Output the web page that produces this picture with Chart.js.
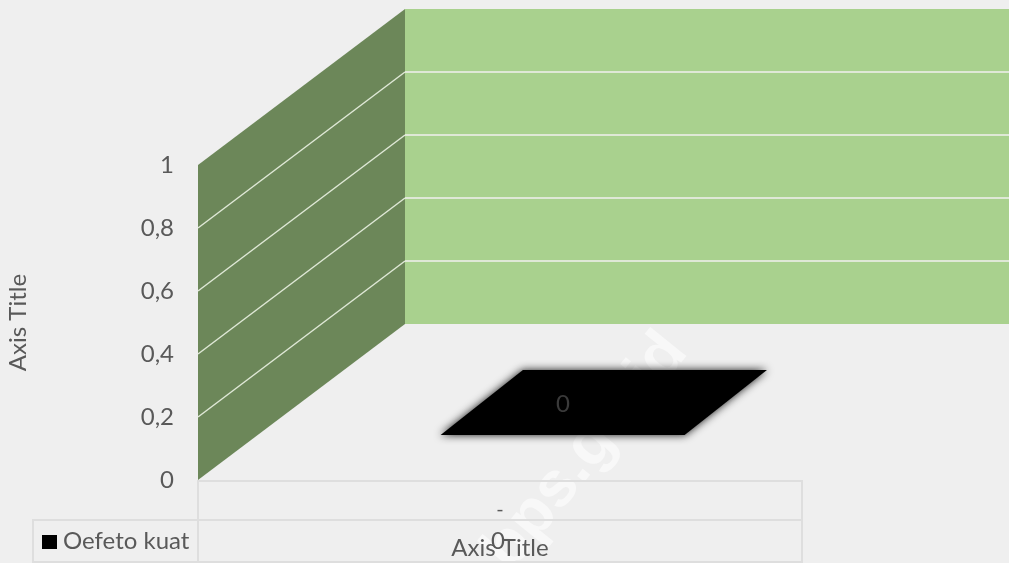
<!DOCTYPE html>
<html>
<head>
<meta charset="utf-8">
<title>Chart</title>
<script src="https://cdn.jsdelivr.net/npm/chart.js@4/dist/chart.umd.min.js"></script>
<style>
    html, body { margin: 0; padding: 0; background: #efefef; }
    canvas { display: block; }
</style>
</head>
<body>
<canvas id="barChart" width="1009" height="563"></canvas>
<script>
const categories = ['-'];
const seriesName = 'Oefeto kuat';
const seriesValues = [0];
const yTicks = ['0', '0,2', '0,4', '0,6', '0,8', '1'];
const axisTitle = 'Axis Title';
const watermark = 'bps.go.id';

const FONT = 'Lato, "Open Sans", sans-serif';
const TEXT = '#595959';
const DEPTH_X = 207;
const DEPTH_Y = -156;

// the 3D look: walls and floor bar, all hung on the chart's own scales
const walls = {
    id: 'walls',
    beforeDraw(chart) {
        const { ctx } = chart;
        // watermark sits under everything
        ctx.save();
        ctx.translate(586, 452);
        ctx.rotate(-51 * Math.PI / 180);
        ctx.fillStyle = '#f8f8f8';
        ctx.font = 'bold 64px "Liberation Sans", sans-serif';
        ctx.textAlign = 'center';
        ctx.textBaseline = 'middle';
        ctx.fillText(watermark, 0, 0);
        ctx.restore();
    },
    beforeDatasetsDraw(chart) {
        const { ctx, chartArea: a, scales: { y } } = chart;
        const bx = a.left + DEPTH_X;
        const by = DEPTH_Y;

        ctx.save();
        ctx.fillStyle = '#a9d18e';
        ctx.fillRect(bx, y.getPixelForValue(1) + by, a.right - a.left, y.getPixelForValue(0) - y.getPixelForValue(1));

        ctx.fillStyle = '#6c8759';
        ctx.beginPath();
        ctx.moveTo(a.left, y.getPixelForValue(0));
        ctx.lineTo(a.left, y.getPixelForValue(1));
        ctx.lineTo(bx, y.getPixelForValue(1) + by);
        ctx.lineTo(bx, y.getPixelForValue(0) + by);
        ctx.closePath();
        ctx.fill();

        ctx.strokeStyle = '#dfe8d6';
        y.ticks.forEach(t => {
            if (t.value === 0 || t.value === 1) return;
            const py = y.getPixelForValue(t.value);
            ctx.lineWidth = 1.5;
            ctx.beginPath();
            ctx.moveTo(a.left, py);
            ctx.lineTo(bx, py + by);
            ctx.stroke();
            ctx.lineWidth = 2;
            ctx.beginPath();
            ctx.moveTo(bx, py + by);
            ctx.lineTo(a.right + DEPTH_X, py + by);
            ctx.stroke();
        });
        ctx.restore();

        // zero height bar, only its footprint is left on the floor
        const bar = chart.getDatasetMeta(0).data[0];
        const zero = y.getPixelForValue(seriesValues[0]);
        const nearF = 0.288, farF = 0.705, nearShift = 3, farShift = -1;
        const left = bar.x - bar.width / 2;
        const right = bar.x + bar.width / 2;
        ctx.save();
        ctx.fillStyle = '#000000';
        ctx.shadowColor = 'rgba(0,0,0,0.9)';
        ctx.shadowBlur = 8;
        ctx.beginPath();
        ctx.moveTo(left + nearShift + DEPTH_X * nearF, zero + DEPTH_Y * nearF);
        ctx.lineTo(right + nearShift + DEPTH_X * nearF, zero + DEPTH_Y * nearF);
        ctx.lineTo(right + farShift + DEPTH_X * farF, zero + DEPTH_Y * farF);
        ctx.lineTo(left + farShift + DEPTH_X * farF, zero + DEPTH_Y * farF);
        ctx.closePath();
        ctx.fill();
        ctx.restore();

        ctx.save();
        ctx.fillStyle = '#3a3a3a';
        ctx.font = '24px ' + FONT;
        ctx.textAlign = 'center';
        ctx.textBaseline = 'middle';
        ctx.fillText(String(seriesValues[0]), bar.x + 63, 404);
        ctx.restore();
    },
    afterDraw(chart) {
        const { ctx, chartArea: a, height } = chart;
        const row = a.bottom + 40;
        const last = height - 1;
        const keyLeft = 33;

        ctx.save();
        ctx.strokeStyle = '#dedede';
        ctx.lineWidth = 2;
        ctx.beginPath();
        ctx.moveTo(a.left, a.bottom + 1);
        ctx.lineTo(a.right, a.bottom + 1);
        ctx.lineTo(a.right, last);
        ctx.lineTo(keyLeft, last);
        ctx.lineTo(keyLeft, row);
        ctx.lineTo(a.right, row);
        ctx.moveTo(a.left, a.bottom);
        ctx.lineTo(a.left, last);
        ctx.stroke();

        ctx.fillStyle = '#000000';
        ctx.fillRect(42, 535, 15, 14);
        ctx.fillStyle = TEXT;
        ctx.font = '24px ' + FONT;
        ctx.textBaseline = 'middle';
        ctx.fillText(seriesName, 63, 541);
        ctx.textAlign = 'center';
        ctx.fillText(String(seriesValues[0]), chart.getDatasetMeta(0).data[0].x - 2, 541);
        ctx.restore();
    }
};

new Chart(document.getElementById('barChart'), {
    type: 'bar',
    data: {
        labels: categories,
        datasets: [{
            label: seriesName,
            data: seriesValues,
            backgroundColor: '#000000',
            barPercentage: 0.404,
            categoryPercentage: 1,
        }],
    },
    options: {
        responsive: false,
        animation: false,
        layout: { padding: { top: 165, right: 207, bottom: 0, left: 0 } },
        plugins: { legend: { display: false }, tooltip: { enabled: false } },
        scales: {
            x: {
                afterFit(scale) { scale.height = 83; },
                grid: { display: false, drawTicks: false },
                border: { display: false },
                ticks: { color: TEXT, padding: 18, maxRotation: 0, font: { family: FONT, size: 20 } },
                title: {
                    display: true,
                    text: axisTitle,
                    color: TEXT,
                    font: { family: FONT, size: 24 },
                    padding: { top: 0, bottom: 0 },
                },
            },
            y: {
                min: 0,
                max: 1,
                afterFit(scale) { scale.width = 198; },
                afterBuildTicks(scale) {
                    scale.ticks = yTicks.map(t => ({ value: parseFloat(t.replace(',', '.')) }));
                },
                grid: { display: false, drawTicks: false },
                border: { display: false },
                ticks: {
                    color: TEXT,
                    padding: 24,
                    font: { family: FONT, size: 24 },
                    callback: value => String(value).replace('.', ','),
                },
                title: {
                    display: true,
                    text: axisTitle,
                    color: TEXT,
                    font: { family: FONT, size: 24 },
                    padding: { top: 4, bottom: 0 },
                },
            },
        },
    },
    plugins: [walls],
});
</script>
</body>
</html>
